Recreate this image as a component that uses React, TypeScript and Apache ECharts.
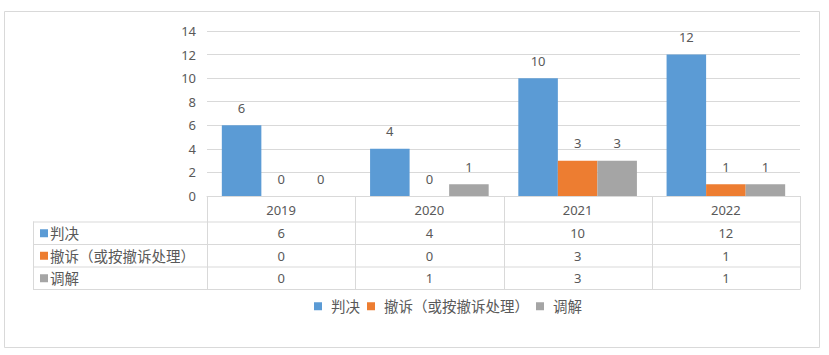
import React, { useEffect, useRef } from "react";
import * as echarts from "echarts";

const categories = ["2019", "2020", "2021", "2022"];
const seriesNames = ["判决", "撤诉（或按撤诉处理）", "调解"];
const panjue = [6, 4, 10, 12];
const chesu = [0, 0, 3, 1];
const tiaojie = [0, 1, 3, 1];
const colors = ["#5b9bd5", "#ed7d31", "#a5a5a5"];
const yMax = 14;
const yInterval = 2;

const W = 829;
const H = 355;
const TXT = "#595959";
const LINE = "#d9d9d9";
const FONT = "'Noto Sans', 'Noto Sans CJK SC', sans-serif";

export default function App() {
  const ref = useRef<HTMLDivElement>(null);
  useEffect(() => {
    document.body.style.margin = "0";
    const chart = echarts.init(ref.current!, null, { renderer: "svg", width: W, height: H });

    const plotLeft = 207;
    const plotRight = 800;
    const axisY = 196;
    const plotTop = 31;
    const tableLeft = 33;
    const rowLines = [221.5, 244, 266.5, 289];
    const colW = (plotRight - plotLeft) / categories.length;
    const allSeries = [panjue, chesu, tiaojie];

    const graphics: any[] = [];
    graphics.push({
      type: "rect",
      shape: { x: 4.5, y: 11.5, width: 815, height: 336 },
      style: { fill: "none", stroke: LINE, lineWidth: 1 },
      silent: true,
    });
    rowLines.forEach((y) => {
      graphics.push({
        type: "line",
        shape: { x1: tableLeft, y1: y + 0.5, x2: plotRight, y2: y + 0.5 },
        style: { stroke: LINE, lineWidth: 1 },
        silent: true,
      });
    });
    graphics.push({
      type: "line",
      shape: { x1: tableLeft + 0.5, y1: rowLines[0], x2: tableLeft + 0.5, y2: rowLines[3] + 0.5 },
      style: { stroke: LINE, lineWidth: 1 },
      silent: true,
    });
    for (let i = 0; i <= categories.length; i++) {
      const x = Math.round(plotLeft + i * colW) + 0.5;
      graphics.push({
        type: "line",
        shape: { x1: x, y1: axisY, x2: x, y2: rowLines[3] + 0.5 },
        style: { stroke: LINE, lineWidth: 1 },
        silent: true,
      });
    }
    for (let r = 0; r < seriesNames.length; r++) {
      const yc = (rowLines[r] + rowLines[r + 1]) / 2 + 0.5;
      graphics.push({
        type: "rect",
        shape: { x: 40, y: yc - 4, width: 8, height: 8 },
        style: { fill: colors[r] },
        silent: true,
      });
      graphics.push({
        type: "text",
        style: {
          text: seriesNames[r],
          x: 50,
          y: yc,
          fill: TXT,
          font: `14.5px ${FONT}`,
          textAlign: "left",
          textVerticalAlign: "middle",
          align: "left",
          verticalAlign: "middle",
        },
        silent: true,
      });
      allSeries[r].forEach((v, c) => {
        graphics.push({
          type: "text",
          style: {
            text: String(v),
            x: plotLeft + (c + 0.5) * colW,
            y: yc,
            fill: TXT,
            font: `13px ${FONT}`,
            textAlign: "center",
            textVerticalAlign: "middle",
            align: "center",
            verticalAlign: "middle",
          },
          silent: true,
        });
      });
    }

    const labelStyle = {
      show: true,
      position: "top" as const,
      distance: 11,
      color: TXT,
      fontSize: 13,
      fontFamily: FONT,
    };

    chart.setOption({
      animation: false,
      backgroundColor: "#ffffff",
      textStyle: { fontFamily: FONT },
      grid: {
        left: plotLeft,
        right: W - plotRight,
        top: plotTop,
        bottom: H - axisY,
        containLabel: false,
      },
      legend: {
        data: seriesNames,
        left: 309,
        top: 294,
        icon: "rect",
        itemWidth: 8,
        itemHeight: 8,
        itemGap: 7,
        textStyle: { color: TXT, fontSize: 14.5, fontFamily: FONT, padding: [0, 0, 0, 4] },
        selectedMode: false,
      },
      xAxis: {
        type: "category",
        data: categories,
        axisLine: { show: true, lineStyle: { color: LINE } },
        axisTick: { show: false },
        axisLabel: { color: TXT, fontSize: 13, margin: 7, fontFamily: FONT },
      },
      yAxis: {
        type: "value",
        min: 0,
        max: yMax,
        interval: yInterval,
        axisLine: { show: false },
        axisTick: { show: false },
        axisLabel: { color: TXT, fontSize: 13, margin: 11, fontFamily: FONT },
        splitLine: { lineStyle: { color: LINE } },
      },
      series: allSeries.map((d, i) => ({
        name: seriesNames[i],
        type: "bar",
        data: d,
        itemStyle: { color: colors[i] },
        barGap: "0%",
        barCategoryGap: "20%",
        label: labelStyle,
      })),
      graphic: graphics,
    });
    return () => chart.dispose();
  }, []);
  return <div ref={ref} style={{ position: "fixed", left: 0, top: 0, width: W, height: H }} />;
}
